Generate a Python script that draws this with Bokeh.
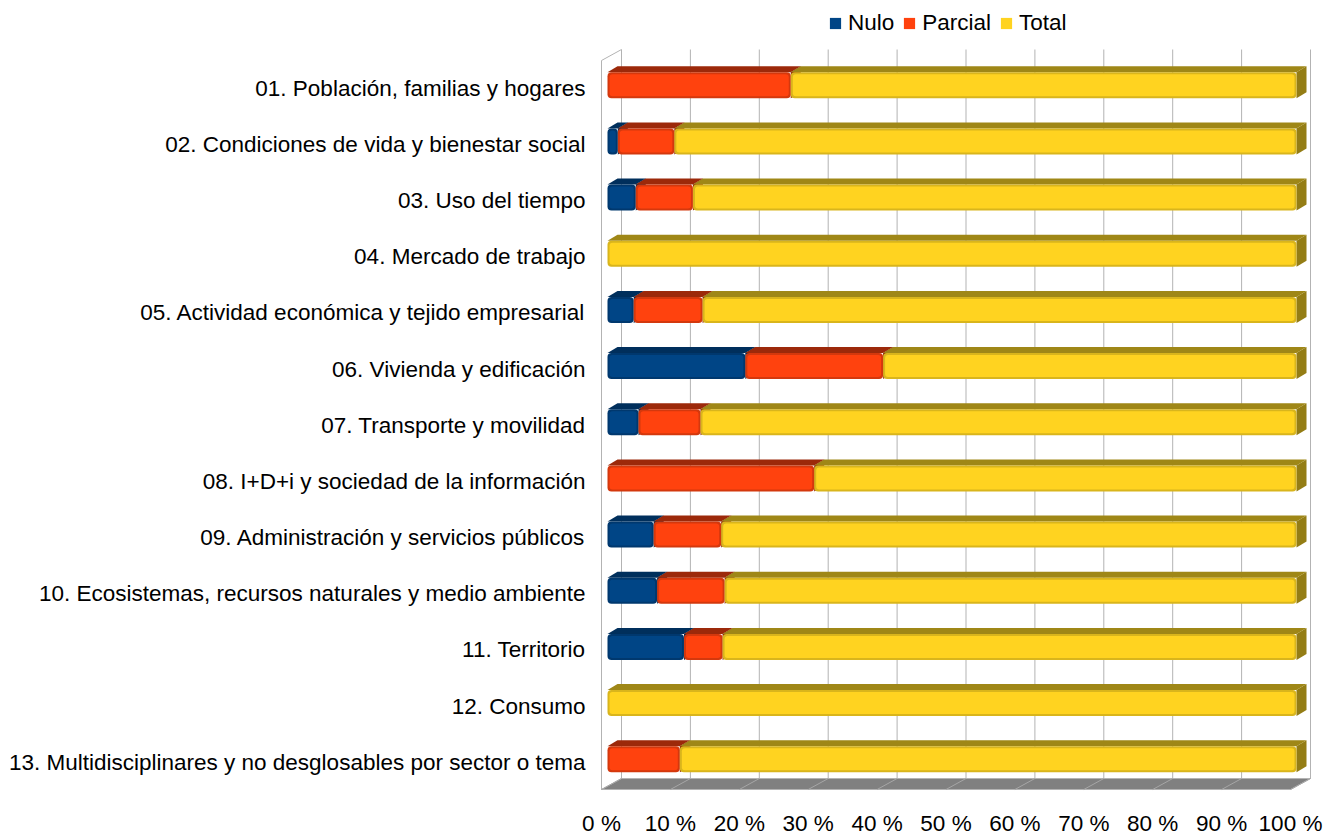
import numpy as np
from bokeh.plotting import figure
from bokeh.models import Range1d, Legend, LegendItem
from bokeh.core.properties import value
from bokeh.embed import file_html
from bokeh.resources import INLINE

# ---------------- data ----------------
categories = [
    "01. Población, familias y hogares",
    "02. Condiciones de vida y bienestar social",
    "03. Uso del tiempo",
    "04. Mercado de trabajo",
    "05. Actividad económica y tejido empresarial",
    "06. Vivienda y edificación",
    "07. Transporte y movilidad",
    "08. I+D+i y sociedad de la información",
    "09. Administración y servicios públicos",
    "10. Ecosistemas, recursos naturales y medio ambiente",
    "11. Territorio",
    "12. Consumo",
    "13. Multidisciplinares y no desglosables por sector o tema",
]
series_names = ["Nulo", "Parcial", "Total"]
nulo = [0, 1.5, 4.1, 0, 3.8, 20.0, 4.5, 0, 6.7, 7.2, 11.1, 0, 0]
parcial = [26.6, 8.2, 8.3, 0, 10.0, 20.0, 9.0, 30.0, 9.8, 9.8, 5.6, 0, 10.5]
total = [100 - a - b for a, b in zip(nulo, parcial)]
x_ticks = [0, 10, 20, 30, 40, 50, 60, 70, 80, 90, 100]
x_tick_labels = ["%d %%" % t for t in x_ticks]

# ---------------- geometry (pixel -> data) ----------------
PX = 6.89      # px per percent
PY = 56.16     # px per row
X0 = 607.0     # x of 0 %
Y0 = 84.8      # y of first row centre
W, H = 1325, 834


def xd(px):
    return (px - X0) / PX


def yd(py):
    return (py - Y0) / PY


FONT = "Liberation Sans"
FS = "22.5px"

p = figure(width=W, height=H,
           x_range=Range1d(xd(0), xd(W)),
           y_range=Range1d(yd(H), yd(0)),
           min_border=0, toolbar_location=None, output_backend="svg",
           x_axis_location=None, y_axis_location=None)
p.outline_line_color = None
p.grid.visible = False
p.background_fill_color = "white"
p.border_fill_color = "white"

n = len(categories)
ticks = np.array(x_ticks, dtype=float)
back = 14 / PX
floor_front = -6 / PX

# back wall grid lines
p.segment(x0=ticks + back, y0=yd(49), x1=ticks + back, y1=yd(778),
          line_color="#b3b3b3", line_width=1)
# left wall outline
p.line(x=[floor_front, floor_front, back], y=[yd(789), yd(60), yd(49)],
       line_color="#b3b3b3", line_width=1)
# floor
p.patch(x=[floor_front, back, 100 + back, 100 + floor_front],
        y=[yd(789), yd(778), yd(778), yd(789)],
        fill_color="#808080", line_color="#b3b3b3", line_width=1)
p.segment(x0=ticks + back, y0=yd(778), x1=ticks + floor_front, y1=yd(789),
          line_color="#a6a6a6", line_width=1)

# bars
front_c = ["#004586", "#ff420e", "#ffd320"]
edge_c = ["#00386e", "#d4380d", "#d9b51c"]
top_c = ["#002f5c", "#9c290a", "#9f8717"]
side_c = ["#002a52", "#8f250a", "#947d15"]
bar_h = 26 / PY
dx = 10 / PX
dy = 6 / PY
ix = 2 / PX
iy = 2 / PY

left = np.zeros(n)
inner_renderers = []
for j, vals in enumerate([nulo, parcial, total]):
    v = np.array(vals, dtype=float)
    right = left + v
    m = v > 0
    Y = np.arange(n, dtype=float)[m]
    L = left[m]
    R = right[m]
    yt = Y - bar_h / 2
    yb = Y + bar_h / 2
    p.patches(xs=[[r, r + dx, r + dx, r] for r in R],
              ys=[[t, t - dy, b - dy, b] for t, b in zip(yt, yb)],
              fill_color=side_c[j], line_color=None)
    p.patches(xs=[[l, r, r + dx, l + dx] for l, r in zip(L, R)],
              ys=[[t, t, t - dy, t - dy] for t in yt],
              fill_color=top_c[j], line_color=None)
    p.hbar(y=Y, left=L, right=R, height=bar_h, fill_color=edge_c[j],
           line_color=None, border_radius=4)
    r_in = p.hbar(y=Y, left=L + ix, right=R - ix, height=bar_h - 2 * iy,
                  fill_color=front_c[j], line_color=None, border_radius=3)
    inner_renderers.append(r_in)
    left = right

# category labels
p.text(x=[xd(585)] * n, y=np.arange(n) + 3 / PY, text=categories,
       text_align="right", text_baseline="middle",
       text_font=value(FONT), text_font_size=value(FS), text_color="black")
# x tick labels (on floor front edge)
p.text(x=ticks + floor_front, y=[yd(822.5)] * len(x_ticks), text=x_tick_labels,
       text_align="center", text_baseline="middle",
       text_font=value(FONT), text_font_size=value(FS), text_color="black")

legend = Legend(items=[LegendItem(label=nm, renderers=[r])
                       for nm, r in zip(series_names, inner_renderers)],
                orientation="horizontal", location=(828, 798),
                glyph_width=14, glyph_height=14, label_standoff=6, spacing=8,
                padding=0, margin=0, border_line_color=None,
                background_fill_alpha=0, label_text_font=FONT,
                label_text_font_size=FS, label_text_color="black")
p.add_layout(legend)

open("out.html", "w").write(file_html(p, INLINE))
